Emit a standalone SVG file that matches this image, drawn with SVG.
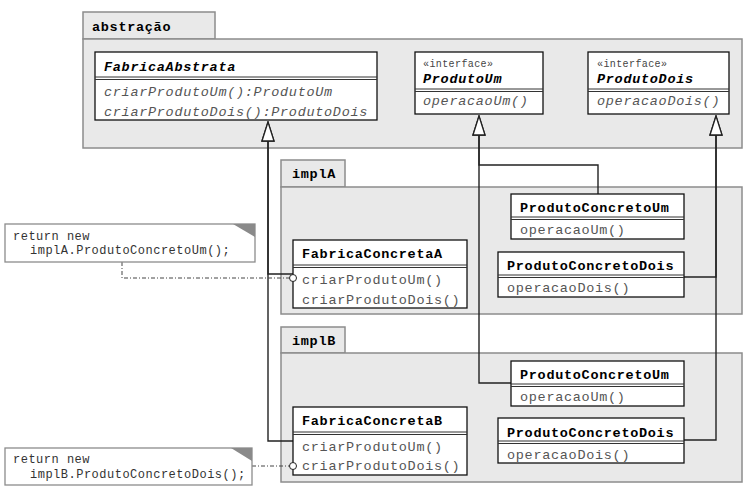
<svg xmlns="http://www.w3.org/2000/svg" width="751" height="489" viewBox="0 0 751 489">
<defs>
<style>
.pkg{fill:#e9e9e9;stroke:#8c8c8c;stroke-width:1.5}
.cls{fill:#fff;stroke:#111;stroke-width:1.3}
.div{stroke:#333;stroke-width:1}
.t{font-family:"Liberation Mono",monospace;font-size:13.5px;letter-spacing:0.7px}
.b{font-weight:bold;fill:#000}
.m{fill:#555}
.i{font-style:italic}
.st{font-family:"Liberation Mono",monospace;font-size:10px;letter-spacing:0.4px;fill:#444}
.note{fill:#fff;stroke:#8c8c8c;stroke-width:1.3}
.nt{font-family:"Liberation Mono",monospace;font-size:12px;letter-spacing:0.5px;fill:#333}
.con{fill:none;stroke:#222;stroke-width:1.4}
.dash{fill:none;stroke:#444;stroke-width:1;stroke-dasharray:4 2 1 2}
</style>
<marker id="gen" markerUnits="userSpaceOnUse" viewBox="0 0 21 14" refX="20" refY="7" markerWidth="21" markerHeight="14" orient="auto">
<path d="M1,1 L20,7 L1,13 Z" fill="#fff" stroke="#222" stroke-width="1.3"/>
</marker>
</defs>
<rect width="751" height="489" fill="#fff"/>

<g id="pkg-abstracao">
<rect class="pkg" x="83" y="12" width="132" height="27"/>
<rect class="pkg" x="83" y="39" width="659" height="109"/>
<text class="t b" x="92" y="31">abstração</text>
</g>
<g id="pkg-implA">
<rect class="pkg" x="281" y="160" width="64" height="27"/>
<rect class="pkg" x="281" y="187" width="461" height="127"/>
<text class="t b" x="292" y="178">implA</text>
</g>
<g id="pkg-implB">
<rect class="pkg" x="281" y="327" width="64" height="26"/>
<rect class="pkg" x="281" y="353" width="461" height="129"/>
<text class="t b" x="292" y="345">implB</text>
</g>

<g id="connectors">
<path class="con" d="M598,194 V165 H479 V116" marker-end="url(#gen)"/>
<path class="con" d="M511,383 H479 V116" marker-end="url(#gen)"/>
<path class="con" d="M684,277 H716 V116" marker-end="url(#gen)"/>
<path class="con" d="M684,440 H716 V116" marker-end="url(#gen)"/>
<path class="con" d="M293,274 H268 V122" marker-end="url(#gen)"/>
<path class="con" d="M293,441 H268 V122" marker-end="url(#gen)"/>
<path class="dash" d="M122,262 V278 H289.5"/>
<path class="dash" d="M252,466 H289.5"/>
</g>

<g id="FabricaAbstrata">
<rect class="cls" x="95" y="52" width="282" height="68"/>
<line class="div" x1="95" y1="77" x2="377" y2="77"/>
<line class="div" x1="95" y1="79.5" x2="377" y2="79.5"/>
<text class="t b i" x="104" y="71">FabricaAbstrata</text>
<text class="t m i" x="104" y="96">criarProdutoUm():ProdutoUm</text>
<text class="t m i" x="104" y="116">criarProdutoDois():ProdutoDois</text>
</g>
<g id="ProdutoUm">
<rect class="cls" x="415" y="52" width="128" height="62"/>
<line class="div" x1="415" y1="89" x2="543" y2="89"/>
<line class="div" x1="415" y1="91.5" x2="543" y2="91.5"/>
<text class="st" x="423" y="67">«interface»</text>
<text class="t b i" x="423" y="83">ProdutoUm</text>
<text class="t m i" x="423" y="105">operacaoUm()</text>
</g>
<g id="ProdutoDois">
<rect class="cls" x="588" y="52" width="141" height="62"/>
<line class="div" x1="588" y1="89" x2="729" y2="89"/>
<line class="div" x1="588" y1="91.5" x2="729" y2="91.5"/>
<text class="st" x="597" y="67">«interface»</text>
<text class="t b i" x="597" y="83">ProdutoDois</text>
<text class="t m i" x="597" y="105">operacaoDois()</text>
</g>

<g id="A-ProdutoConcretoUm">
<rect class="cls" x="511" y="194" width="173" height="45"/>
<line class="div" x1="511" y1="217" x2="684" y2="217"/>
<line class="div" x1="511" y1="219.5" x2="684" y2="219.5"/>
<text class="t b" x="520" y="212">ProdutoConcretoUm</text>
<text class="t m" x="520" y="234">operacaoUm()</text>
</g>
<g id="A-ProdutoConcretoDois">
<rect class="cls" x="498" y="252" width="186" height="45"/>
<line class="div" x1="498" y1="275" x2="684" y2="275"/>
<line class="div" x1="498" y1="277.5" x2="684" y2="277.5"/>
<text class="t b" x="507" y="270">ProdutoConcretoDois</text>
<text class="t m" x="507" y="292">operacaoDois()</text>
</g>
<g id="FabricaConcretaA">
<rect class="cls" x="293" y="240" width="174" height="68"/>
<line class="div" x1="293" y1="265" x2="467" y2="265"/>
<line class="div" x1="293" y1="267.5" x2="467" y2="267.5"/>
<text class="t b" x="302" y="258">FabricaConcretaA</text>
<text class="t m" x="302" y="284">criarProdutoUm()</text>
<text class="t m" x="302" y="304">criarProdutoDois()</text>
<circle cx="293" cy="278" r="3.5" fill="#fff" stroke="#222" stroke-width="1"/>
</g>

<g id="B-ProdutoConcretoUm">
<rect class="cls" x="511" y="361" width="173" height="45"/>
<line class="div" x1="511" y1="384" x2="684" y2="384"/>
<line class="div" x1="511" y1="386.5" x2="684" y2="386.5"/>
<text class="t b" x="520" y="379">ProdutoConcretoUm</text>
<text class="t m" x="520" y="401">operacaoUm()</text>
</g>
<g id="B-ProdutoConcretoDois">
<rect class="cls" x="498" y="418" width="186" height="45"/>
<line class="div" x1="498" y1="441" x2="684" y2="441"/>
<line class="div" x1="498" y1="443.5" x2="684" y2="443.5"/>
<text class="t b" x="507" y="437">ProdutoConcretoDois</text>
<text class="t m" x="507" y="459">operacaoDois()</text>
</g>
<g id="FabricaConcretaB">
<rect class="cls" x="293" y="407" width="174" height="68"/>
<line class="div" x1="293" y1="432" x2="467" y2="432"/>
<line class="div" x1="293" y1="434.5" x2="467" y2="434.5"/>
<text class="t b" x="302" y="425">FabricaConcretaB</text>
<text class="t m" x="302" y="451">criarProdutoUm()</text>
<text class="t m" x="302" y="470">criarProdutoDois()</text>
<circle cx="293" cy="466" r="3.5" fill="#fff" stroke="#222" stroke-width="1"/>
</g>

<g id="noteA">
<rect class="note" x="5" y="224" width="250" height="38"/>
<path d="M233,224 L255,224 L255,237 Z" fill="#8a8a8a"/>
<text class="nt" x="13" y="240">return new</text>
<text class="nt" x="30" y="254">implA.ProdutoConcretoUm();</text>
</g>
<g id="noteB">
<rect class="note" x="5" y="448" width="247" height="37"/>
<path d="M231,448 L252,448 L252,461 Z" fill="#8a8a8a"/>
<text class="nt" x="13" y="463">return new</text>
<text class="nt" x="30" y="478">implB.ProdutoConcretoDois();</text>
</g>
</svg>
